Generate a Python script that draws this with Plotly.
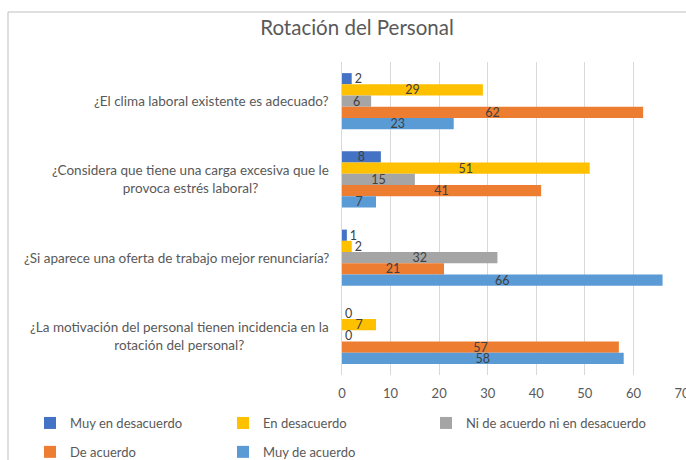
import plotly.graph_objects as go

categories = [
    "¿El clima laboral existente es adecuado?",
    "¿Considera que tiene una carga excesiva que le<br>provoca estrés laboral?",
    "¿Si aparece una oferta de trabajo mejor renunciaría?",
    "¿La motivación del personal tienen incidencia en la<br>rotación del personal?",
]
series_names = [
    "Muy en desacuerdo",
    "En desacuerdo",
    "Ni de acuerdo ni en desacuerdo",
    "De acuerdo",
    "Muy de acuerdo",
]
muy_en_desacuerdo = [2, 8, 1, 0]
en_desacuerdo = [29, 51, 2, 7]
ni_ni = [6, 15, 32, 0]
de_acuerdo = [62, 41, 21, 57]
muy_de_acuerdo = [23, 7, 66, 58]
series_values = [muy_en_desacuerdo, en_desacuerdo, ni_ni, de_acuerdo, muy_de_acuerdo]
colors = ["#4472C4", "#FFC000", "#A5A5A5", "#ED7D31", "#5B9BD5"]
x_ticks = [0, 10, 20, 30, 40, 50, 60, 70]

FONT = "Lato, Liberation Sans, sans-serif"
LBL = dict(family=FONT, size=12.5, color="#404040")

# legend column for each series (3 columns, 2 rows as in the reference)
legend_ids = ["legend", "legend2", "legend3", "legend", "legend2"]

fig = go.Figure()
for i, (name, vals, col) in enumerate(zip(series_names, series_values, colors)):
    fig.add_trace(go.Bar(
        y=categories, x=vals, name=name, orientation="h",
        marker=dict(color=col, line=dict(width=0)),
        text=[str(v) for v in vals],
        textposition=["outside" if v < 4 else "inside" for v in vals],
        insidetextanchor="middle", textangle=0, constraintext="none",
        textfont=LBL, insidetextfont=LBL, outsidetextfont=LBL,
        cliponaxis=False,
        legend=legend_ids[i], legendgroup=f"g{i}",
    ))

L, R, T, B = 342, 4, 62, 85
W, H = 686, 460
pw = W - L - R
ph = H - T - B

def px_x(p):
    return (p - L) / pw

def px_y(p):
    return (H - B - p) / ph

def cx(p):
    return p / W

def cy(p):
    return 1 - p / H

leg_common = dict(orientation="v", xref="paper", yref="paper",
                  xanchor="left", yanchor="top", traceorder="grouped",
                  font=dict(family=FONT, size=13, color="#595959"),
                  itemwidth=30, tracegroupgap=9, bgcolor="rgba(0,0,0,0)")

fig.update_layout(
    width=W, height=H,
    margin=dict(l=L, r=R, t=T, b=B, autoexpand=False),
    paper_bgcolor="white", plot_bgcolor="white",
    barmode="group", bargap=0.284, bargroupgap=0,
    title=dict(text="Rotación del Personal", x=cx(357), xanchor="center",
               xref="container", y=cy(28), yanchor="middle", yref="container",
               font=dict(family=FONT, size=20.5, color="#595959")),
    font=dict(family=FONT, size=12, color="#595959"),
    xaxis=dict(range=[0, 70], tickvals=x_ticks, showgrid=True, gridcolor="#D9D9D9",
               gridwidth=1, zeroline=False, showline=False, ticks="",
               ticklabeloverflow="allow", ticklabelstandoff=9,
               tickfont=dict(family=FONT, size=13, color="#595959")),
    yaxis=dict(categoryorder="array", categoryarray=categories, autorange="reversed",
               showline=True, linecolor="#D9D9D9", ticks="", showticklabels=False),
    legend=dict(x=px_x(30), y=px_y(408), **leg_common),
    legend2=dict(x=px_x(223), y=px_y(408), **leg_common),
    legend3=dict(x=px_x(426), y=px_y(408), **leg_common),
    showlegend=True,
)

for cat in categories:
    fig.add_annotation(text=cat, xref="paper", x=px_x(331), xanchor="right",
                       yref="y", y=cat, yanchor="middle", align="center",
                       showarrow=False,
                       font=dict(family=FONT, size=13.5, color="#595959"))

fig.add_shape(type="line", xref="paper", yref="paper",
              x0=px_x(8), x1=px_x(8), y0=px_y(480), y1=px_y(12),
              line=dict(color="#BFBFBF", width=1))
fig.add_shape(type="line", xref="paper", yref="paper",
              x0=px_x(8), x1=px_x(700), y0=px_y(12), y1=px_y(12),
              line=dict(color="#BFBFBF", width=1))

fig.write_html("out.html")
